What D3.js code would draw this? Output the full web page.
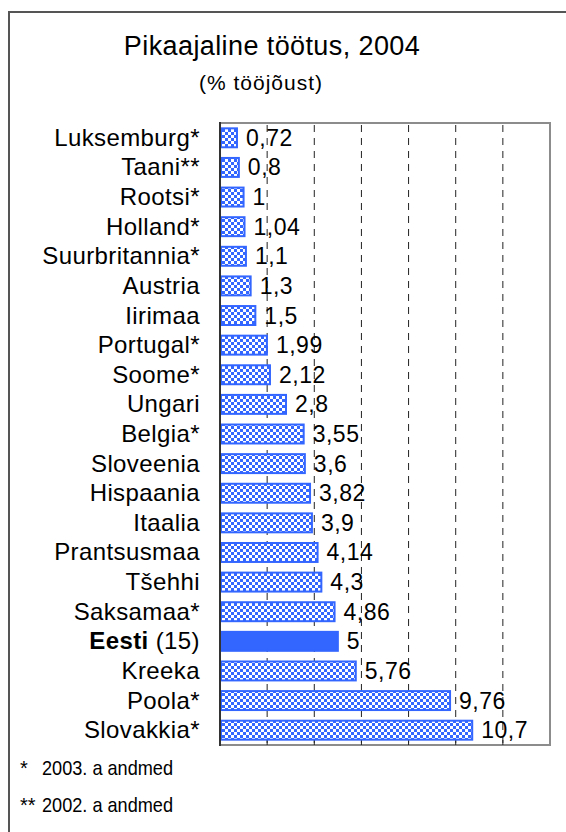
<!DOCTYPE html>
<html><head><meta charset="utf-8">
<script src="https://cdn.jsdelivr.net/npm/d3@7"></script>
<style>html,body{margin:0;padding:0;background:#fff;}svg{display:block;}</style>
</head><body>
<script>
const categories = ["Luksemburg*","Taani**","Rootsi*","Holland*","Suurbritannia*","Austria","Iirimaa","Portugal*","Soome*","Ungari","Belgia*","Sloveenia","Hispaania","Itaalia","Prantsusmaa","Tšehhi","Saksamaa*","Eesti","Kreeka","Poola*","Slovakkia*"];
const values = [0.72,0.8,1,1.04,1.1,1.3,1.5,1.99,2.12,2.8,3.55,3.6,3.82,3.9,4.14,4.3,4.86,5,5.76,9.76,10.7];
const highlight = "Eesti";
const highlightNote = " (15)";
const gridTicks = [2,4,6,8,10,12];
const xDomain = [0,14];
const titleText = "Pikaajaline töötus, 2004";
const subtitleText = "(% tööjõust)";
const footMarks = ["*","**"];
const footTexts = ["2003. a andmed","2002. a andmed"];

const W = 566, H = 832;
const svg = d3.select("body").append("svg").attr("width",W).attr("height",H);
const blue = "#3366ff";
const defs = svg.append("defs");
const pat = defs.append("pattern").attr("id","chk").attr("patternUnits","userSpaceOnUse")
  .attr("width",6).attr("height",6);
pat.append("rect").attr("width",6).attr("height",6).attr("fill",blue);
pat.append("rect").attr("x",0).attr("y",0).attr("width",3).attr("height",3).attr("fill","#fff");
pat.append("rect").attr("x",3).attr("y",3).attr("width",3).attr("height",3).attr("fill","#fff");

// outer frame
svg.append("rect").attr("x",9).attr("y",12).attr("width",700).attr("height",900)
  .attr("fill","none").attr("stroke","#555").attr("stroke-width",2);

const m = {left:220, right:550, top:123, bottom:745};
const x = d3.scaleLinear().domain(xDomain).range([m.left,m.right]);
const y = d3.scaleBand().domain(categories).range([m.top,m.bottom]).paddingInner(0.36).paddingOuter(0.18);

const FONT = "Liberation Sans, Arial, sans-serif";
// title
svg.append("text").attr("x",272).attr("y",55).attr("text-anchor","middle")
  .attr("font-family",FONT).attr("font-size",27)
  .attr("letter-spacing","0.4px").attr("fill","#000").text(titleText);
svg.append("text").attr("x",261).attr("y",90).attr("text-anchor","middle")
  .attr("font-family",FONT).attr("font-size",21)
  .attr("letter-spacing","1px").attr("fill","#000").text(subtitleText);

// plot frame
svg.append("rect").attr("x",m.left).attr("y",m.top).attr("width",m.right-m.left).attr("height",m.bottom-m.top)
  .attr("fill","#fff").attr("stroke","#8c8c8c").attr("stroke-width",2);

// gridlines
svg.append("g").selectAll("line").data(gridTicks).join("line")
  .attr("x1",d=>x(d)).attr("x2",d=>x(d)).attr("y1",m.top+2).attr("y2",m.bottom)
  .attr("stroke","#222").attr("stroke-width",1).attr("stroke-dasharray","7,6");
svg.append("g").selectAll("line").data(gridTicks).join("line")
  .attr("x1",d=>x(d)).attr("x2",d=>x(d)).attr("y1",m.bottom-5).attr("y2",m.bottom)
  .attr("stroke","#222").attr("stroke-width",1);

// bars
const data = categories.map((c,i)=>({c, v:values[i]}));
svg.append("g").selectAll("rect").data(data).join("rect")
  .attr("x",x(0)+1).attr("y",d=>y(d.c)).attr("height",y.bandwidth())
  .attr("width",d=>x(d.v)-x(0)-1)
  .attr("fill",d=>d.c===highlight?blue:"url(#chk)")
  .attr("stroke",blue).attr("stroke-width",2);

// left axis line
svg.append("line").attr("x1",m.left).attr("x2",m.left).attr("y1",m.top-1).attr("y2",m.bottom+1)
  .attr("stroke","#333").attr("stroke-width",2);

// value labels
svg.append("g").selectAll("text").data(data).join("text")
  .attr("x",d=>x(d.v)+9).attr("y",d=>y(d.c)+y.bandwidth()/2+8)
  .attr("font-family",FONT).attr("font-size",23)
  .attr("letter-spacing","0.5px").attr("fill","#000")
  .text(d=>String(d.v).replace(".",","));

// category labels
const lab = svg.append("g").selectAll("text").data(data).join("text")
  .attr("x",200).attr("y",d=>y(d.c)+y.bandwidth()/2+8).attr("text-anchor","end")
  .attr("font-family",FONT).attr("font-size",24)
  .attr("letter-spacing","0.4px").attr("fill","#000");
lab.each(function(d){
  const t = d3.select(this);
  if (d.c===highlight){
    t.append("tspan").attr("font-weight","bold").text(d.c);
    t.append("tspan").text(highlightNote);
  } else t.text(d.c);
});

// footnotes
footMarks.forEach((mk,i)=>{
  const yy = 775 + i*37;
  svg.append("text").attr("x",20).attr("y",yy)
    .attr("font-family","Liberation Sans Narrow, Arial Narrow, Liberation Sans, sans-serif")
    .attr("font-size",20).attr("fill","#000").text(mk);
  svg.append("text").attr("x",42).attr("y",yy)
    .attr("font-family","Liberation Sans Narrow, Arial Narrow, Liberation Sans, sans-serif")
    .attr("font-size",21).attr("fill","#000")
    .attr("textLength",131).attr("lengthAdjust","spacingAndGlyphs").text(footTexts[i]);
});
</script>
</body></html>
